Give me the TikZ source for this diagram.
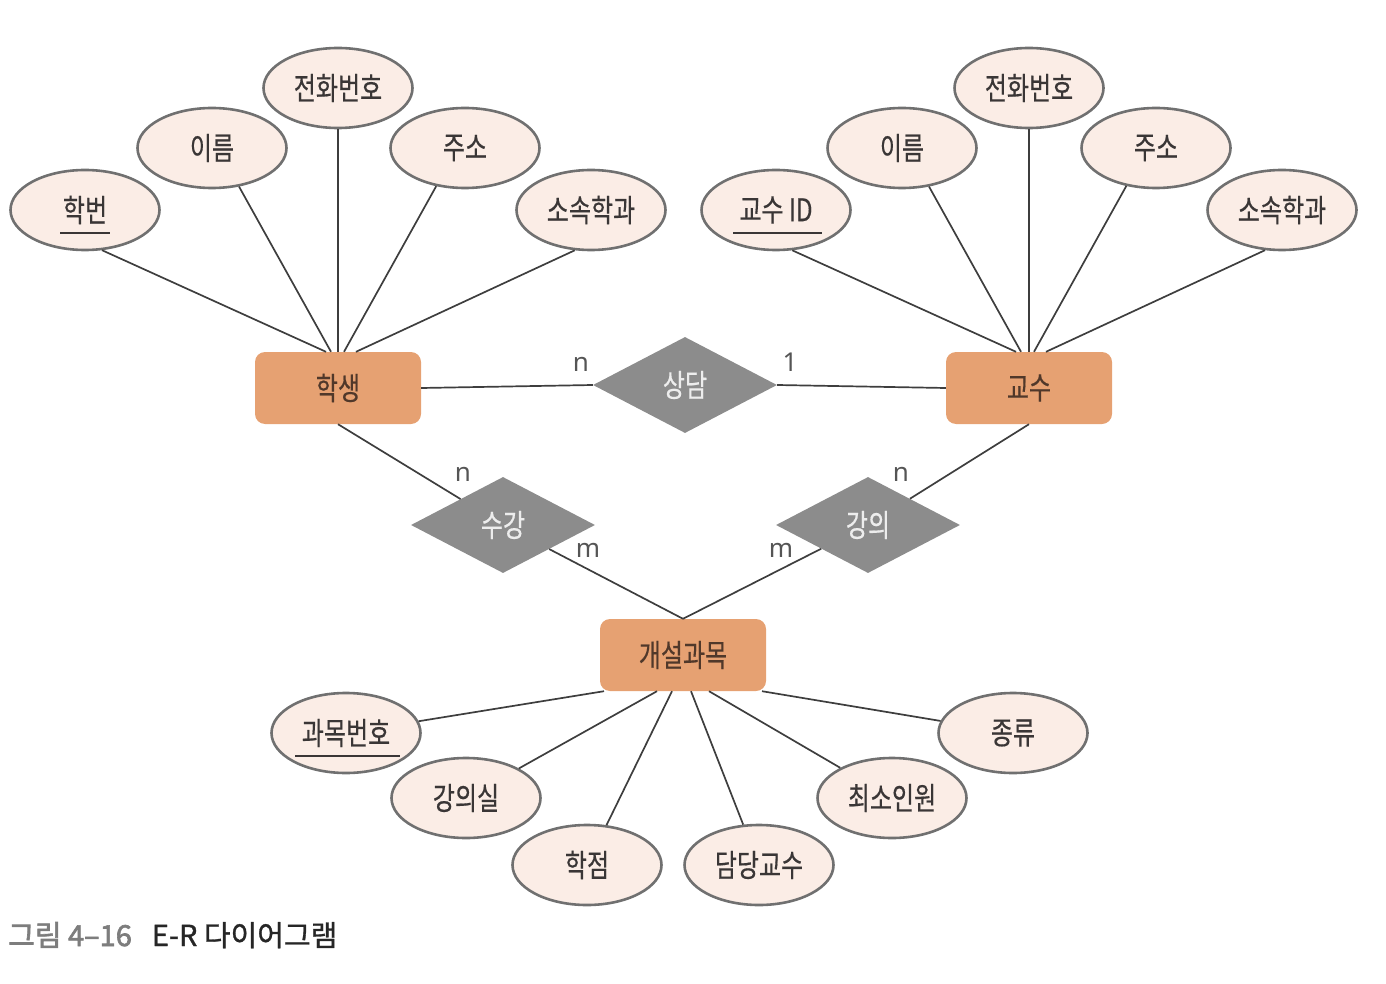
\documentclass[tikz,border=0pt]{standalone}
\usepackage{fontspec}
\usepackage{graphicx}
\usetikzlibrary{shapes.geometric,calc}
\newfontfamily\kr{Noto Sans CJK KR}
\newfontfamily\krm{Noto Sans CJK KR}[FakeBold=0.5]
\newfontfamily\krb{Noto Sans CJK KR}[FakeBold=2.2]
\newfontfamily\lab{Noto Sans}
\definecolor{attrfill}{RGB}{251,237,230}
\definecolor{attrline}{RGB}{112,112,112}
\definecolor{entfill}{RGB}{230,161,114}
\definecolor{relfill}{RGB}{140,140,140}
\definecolor{linec}{RGB}{62,62,62}
\definecolor{txt}{RGB}{58,54,54}
\definecolor{enttxt}{RGB}{80,56,42}
\definecolor{labc}{RGB}{85,85,85}
\definecolor{capgray}{RGB}{125,125,125}
\newcommand\kt[1]{\scalebox{1}[1.3]{#1}}
\tikzset{
  attr/.style={ellipse, draw=attrline, line width=2.6pt, fill=attrfill,
    minimum width=149pt, minimum height=80pt, inner sep=0pt, text=txt,
    font=\krm\fontsize{24}{28}\selectfont},
  ent/.style={rectangle, rounded corners=10pt, fill=entfill,
    minimum width=166pt, minimum height=72pt, inner sep=0pt, text=enttxt,
    font=\krm\fontsize{24}{28}\selectfont},
  rel/.style={diamond, fill=relfill, minimum width=184pt, minimum height=96pt,
    inner sep=0pt, text=white!93!black, font=\krm\fontsize{24}{28}\selectfont},
  conn/.style={draw=linec, line width=1.7pt},
  ulst/.style={draw=txt, line width=2pt},
  card/.style={text=labc, font=\lab\fontsize{26}{30}\selectfont, inner sep=0pt}
}
\begin{document}
\begin{tikzpicture}[x=1pt,y=-1pt]
\useasboundingbox (0,0) rectangle (1386,984);

% entities
\node[ent] (s) at (338,388) {\kt{학생}};
\node[ent] (p) at (1029,388) {\kt{교수}};
\node[ent] (c) at (683,655) {\kt{개설과목}};

% relationships
\node[rel] (r1) at (685,385) {\kt{상담}};
\node[rel] (r2) at (503,525) {\kt{수강}};
\node[rel] (r3) at (868,525) {\kt{강의}};

% student attributes
\node[attr] (sa1) at (85,210) {\kt{학번}};
\node[attr] (sa2) at (212,148) {\kt{이름}};
\node[attr] (sa3) at (338,88) {\kt{전화번호}};
\node[attr] (sa4) at (465,148) {\kt{주소}};
\node[attr] (sa5) at (591,210) {\kt{소속학과}};

% professor attributes
\node[attr] (pa1) at (776,210) {\kt{교수 ID}};
\node[attr] (pa2) at (902,148) {\kt{이름}};
\node[attr] (pa3) at (1029,88) {\kt{전화번호}};
\node[attr] (pa4) at (1156,148) {\kt{주소}};
\node[attr] (pa5) at (1282,210) {\kt{소속학과}};

% course attributes
\node[attr] (ca1) at (346,733) {\kt{과목번호}};
\node[attr] (ca2) at (466,798) {\kt{강의실}};
\node[attr] (ca3) at (587,865) {\kt{학점}};
\node[attr] (ca4) at (759,865) {\kt{담당교수}};
\node[attr] (ca5) at (892,798) {\kt{최소인원}};
\node[attr] (ca6) at (1013,733) {\kt{종류}};

% underlines of keys
\draw[ulst] ($(sa1.center)+(-25,23)$) -- ($(sa1.center)+(25,23)$);
\draw[ulst] ($(pa1.center)+(-43,23)$) -- ($(pa1.center)+(46,23)$);
\draw[ulst] ($(ca1.center)+(-51,23)$) -- ($(ca1.center)+(54,23)$);

% attribute connectors
\coordinate (s1) at ($(s.north)+(-12,0)$);
\coordinate (s2) at ($(s.north)+(-7,0)$);
\coordinate (s3) at ($(s.north)+(0,0)$);
\coordinate (s4) at ($(s.north)+(6,0)$);
\coordinate (s5) at ($(s.north)+(18,0)$);
\draw[conn] (sa1.-67) -- (s1);
\draw[conn] (sa2.-55) -- (s2);
\draw[conn] (sa3.south) -- (s3);
\draw[conn] (sa4.-127) -- (s4);
\draw[conn] (sa5.-112) -- (s5);

\coordinate (p1) at ($(p.north)+(-13,0)$);
\coordinate (p2) at ($(p.north)+(-8,0)$);
\coordinate (p3) at ($(p.north)+(0,0)$);
\coordinate (p4) at ($(p.north)+(5,0)$);
\coordinate (p5) at ($(p.north)+(17,0)$);
\draw[conn] (pa1.-68) -- (p1);
\draw[conn] (pa2.-55) -- (p2);
\draw[conn] (pa3.south) -- (p3);
\draw[conn] (pa4.-128) -- (p4);
\draw[conn] (pa5.-113) -- (p5);

\coordinate (c1) at ($(c.south)+(-79,0)$);
\coordinate (c2) at ($(c.south)+(-26,0)$);
\coordinate (c3) at ($(c.south)+(-11,0)$);
\coordinate (c4) at ($(c.south)+(8,0)$);
\coordinate (c5) at ($(c.south)+(26,0)$);
\coordinate (c6) at ($(c.south)+(79,0)$);
\draw[conn] (ca1) -- (c1);
\draw[conn] (ca2) -- (c2);
\draw[conn] (ca3) -- (c3);
\draw[conn] (ca4) -- (c4);
\draw[conn] (ca5) -- (c5);
\draw[conn] (ca6) -- (c6);

% relationship connectors
\draw[conn] (s.east) -- (r1.west);
\draw[conn] (r1.east) -- (p.west);
\draw[conn] (s.south) -- (r2);
\draw[conn] (r2) -- (c.north);
\draw[conn] (p.south) -- (r3);
\draw[conn] (r3) -- (c.north);

% cardinalities
\node[card] (k1) at (581,364) {n};
\node[card] (k2) at (790,362) {1};
\node[card] (k3) at (463,474) {n};
\node[card] (k4) at (588,550) {m};
\node[card] (k5) at (781,550) {m};
\node[card] (k6) at (901,474) {n};

% caption
\node[anchor=base west, inner sep=0pt, font=\fontsize{29}{33}\selectfont] (cap) at (8,946)
  {{\krb\color{capgray}그림 4–16}\hspace{20pt}{\krb\addfontfeature{FakeBold=1}\color{black!85}E-R 다이어그램}};
\end{tikzpicture}
\end{document}
